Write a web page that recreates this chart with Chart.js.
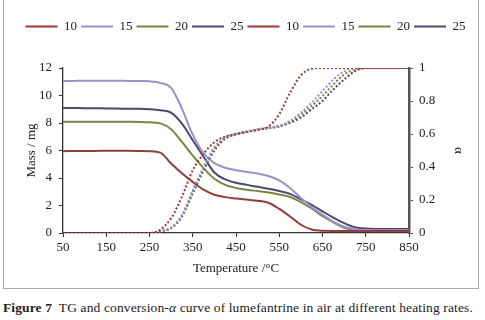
<!DOCTYPE html>
<html lang="en">
<head>
    <meta charset="UTF-8">
    <title>TG and conversion curve</title>
    <script src="https://cdn.jsdelivr.net/npm/chart.js"></script>
    <style>
        body {
            margin: 0;
            background: #fff;
            font-family: "Liberation Serif", serif;
        }
        #frame {
            position: absolute;
            left: 3px;
            top: -2px;
            width: 474px;
            height: 289px;
            border: 1.5px solid #a9a9a9;
        }
        #wrap {
            position: absolute;
            left: 0;
            top: 0;
            width: 485px;
            height: 288px;
        }
        #caption {
            position: absolute;
            left: 3px;
            top: 300px;
            font-size: 13.5px;
            line-height: 15px;
            letter-spacing: 0.12px;
            color: #222;
            white-space: nowrap;
        }
    </style>
</head>
<body>
    <div id="frame"></div>
    <div id="wrap"><canvas id="tgChart"></canvas></div>
    <div id="caption"><b>Figure 7</b>&nbsp; TG and conversion-<i>α</i> curve of lumefantrine in air at different heating rates.</div>

    <script>
        // temperature (°C)
        const temps = [50, 75, 100, 125, 150, 175, 200, 225, 250, 275, 300, 325, 350, 375, 400, 425, 450,
                       475, 500, 525, 550, 575, 600, 625, 650, 675, 700, 725, 750, 775, 800, 825, 850];

        // TG mass (mg) per heating rate
        const mass10 = [5.95, 5.96, 5.97, 5.97, 5.98, 5.98, 5.98, 5.97, 5.95, 5.85, 5.05, 4.35, 3.72, 3.15, 2.78, 2.61, 2.51,
                        2.43, 2.35, 2.2, 1.75, 1.2, 0.6, 0.25, 0.16, 0.15, 0.15, 0.15, 0.15, 0.15, 0.15, 0.15, 0.15];
        const mass15 = [11.05, 11.06, 11.07, 11.07, 11.07, 11.07, 11.06, 11.05, 11.03, 10.92, 10.55, 9.05, 7.15, 5.8, 5.08, 4.75, 4.57,
                        4.44, 4.32, 4.14, 3.82, 3.27, 2.55, 1.88, 1.33, 0.82, 0.45, 0.27, 0.21, 0.2, 0.2, 0.2, 0.2];
        const mass20 = [8.1, 8.1, 8.1, 8.1, 8.1, 8.1, 8.09, 8.08, 8.05, 7.97, 7.55, 6.62, 5.62, 4.72, 3.95, 3.5, 3.28,
                        3.15, 3.05, 2.95, 2.8, 2.62, 2.25, 1.78, 1.22, 0.78, 0.38, 0.22, 0.2, 0.2, 0.2, 0.2, 0.2];
        const mass25 = [9.1, 9.09, 9.08, 9.07, 9.06, 9.05, 9.04, 9.03, 9.0, 8.93, 8.75, 7.95, 6.75, 5.55, 4.4, 3.9, 3.65,
                        3.5, 3.36, 3.22, 3.05, 2.85, 2.45, 2.05, 1.58, 1.12, 0.72, 0.42, 0.32, 0.3, 0.3, 0.3, 0.3];

        // conversion alpha per heating rate
        const alpha10 = [0, 0, 0, 0, 0, 0, 0, 0, 0, 0.02, 0.09, 0.22, 0.38, 0.48, 0.55, 0.585, 0.6,
                         0.612, 0.625, 0.645, 0.72, 0.85, 0.955, 0.995, 1, 1, 1, 1, 1, 1, 1, 1, 1];
        const alpha15 = [0, 0, 0, 0, 0, 0, 0, 0, 0, 0.01, 0.035, 0.11, 0.26, 0.4, 0.52, 0.58, 0.6,
                         0.615, 0.628, 0.638, 0.65, 0.68, 0.73, 0.79, 0.86, 0.93, 0.98, 1, 1, 1, 1, 1, 1];
        const alpha20 = [0, 0, 0, 0, 0, 0, 0, 0, 0, 0.01, 0.03, 0.1, 0.25, 0.39, 0.51, 0.575, 0.6,
                         0.615, 0.628, 0.638, 0.648, 0.675, 0.715, 0.77, 0.83, 0.9, 0.96, 0.99, 1, 1, 1, 1, 1];
        const alpha25 = [0, 0, 0, 0, 0, 0, 0, 0, 0, 0.01, 0.03, 0.1, 0.24, 0.38, 0.5, 0.57, 0.598,
                         0.613, 0.626, 0.636, 0.646, 0.668, 0.7, 0.75, 0.8, 0.87, 0.93, 0.98, 1, 1, 1, 1, 1];

        const rateLabels = ['10', '15', '20', '25'];
        const colors = ['#9a3b37', '#9b8fd2', '#728c3c', '#4e4870'];

        const xTicks = { min: 50, max: 850, step: 100 };

        function pts(values) {
            return temps.map((t, i) => ({ x: t, y: values[i] }));
        }

        const massSets = [mass10, mass15, mass20, mass25];
        const alphaSets = [alpha10, alpha15, alpha20, alpha25];

        const datasets = [];
        massSets.forEach((m, i) => {
            datasets.push({
                label: rateLabels[i],
                data: pts(m),
                borderColor: colors[i],
                backgroundColor: colors[i],
                borderWidth: 2,
                pointRadius: 0,
                cubicInterpolationMode: 'monotone',
                yAxisID: 'y',
                order: 1
            });
        });
        alphaSets.forEach((a, i) => {
            datasets.push({
                label: rateLabels[i],
                data: pts(a),
                borderColor: colors[i],
                backgroundColor: colors[i],
                borderWidth: 2,
                borderDash: [2, 2],
                pointRadius: 0,
                cubicInterpolationMode: 'monotone',
                yAxisID: 'y2',
                order: 0
            });
        });

        const serif = '"Liberation Serif", "Times New Roman", serif';
        const tickFont = { family: serif, size: 13 };
        const titleFont = { family: serif, size: 13 };

        new Chart(document.getElementById('tgChart'), {
            type: 'line',
            data: { datasets: datasets },
            options: {
                responsive: true,
                maintainAspectRatio: false,
                animation: false,
                layout: { padding: { left: 20, right: 14, top: 16, bottom: 8 } },
                plugins: {
                    tooltip: { enabled: false },
                    legend: {
                        position: 'top',
                        labels: {
                            usePointStyle: true,
                            pointStyle: 'line',
                            pointStyleWidth: 32,
                            padding: 4,
                            color: '#222',
                            font: { family: serif, size: 13 }
                        }
                    }
                },
                scales: {
                    x: {
                        type: 'linear',
                        min: xTicks.min,
                        max: xTicks.max,
                        afterFit: s => { s.height = 47; },
                        ticks: { stepSize: xTicks.step, padding: 3, color: '#222', font: tickFont, maxRotation: 0 },
                        grid: { drawOnChartArea: false, drawTicks: true, tickLength: 4, color: '#333' },
                        border: { display: true, color: '#333', width: 1.3 },
                        title: { display: true, text: 'Temperature /°C', color: '#222', font: titleFont, padding: { top: 0, bottom: 4 } }
                    },
                    spacer: {
                        type: 'linear',
                        position: 'top',
                        display: true,
                        afterFit: s => { s.height = 25; },
                        ticks: { display: false },
                        grid: { display: false },
                        border: { display: false }
                    },
                    y: {
                        position: 'left',
                        min: 0,
                        max: 12,
                        afterFit: s => { s.width = 43; },
                        ticks: { stepSize: 2, padding: 7, color: '#222', font: tickFont },
                        grid: { drawOnChartArea: false, drawTicks: true, tickLength: 4, color: '#333' },
                        border: { display: true, color: '#333', width: 1.3 },
                        title: { display: true, text: 'Mass / mg', color: '#222', font: titleFont, padding: { top: 4, bottom: 0 } }
                    },
                    y2: {
                        position: 'right',
                        min: 0,
                        max: 1,
                        afterFit: s => { s.width = 62; },
                        ticks: { stepSize: 0.2, padding: 6, color: '#222', font: tickFont, callback: v => +v.toFixed(1) },
                        grid: { drawOnChartArea: false, drawTicks: true, tickLength: 4, color: '#555' },
                        border: { display: true, color: '#555', width: 2.5 },
                        title: { display: true, text: 'α', color: '#222', font: titleFont, padding: { top: 5, bottom: 0 } }
                    }
                }
            }
        });
    </script>
</body>
</html>
